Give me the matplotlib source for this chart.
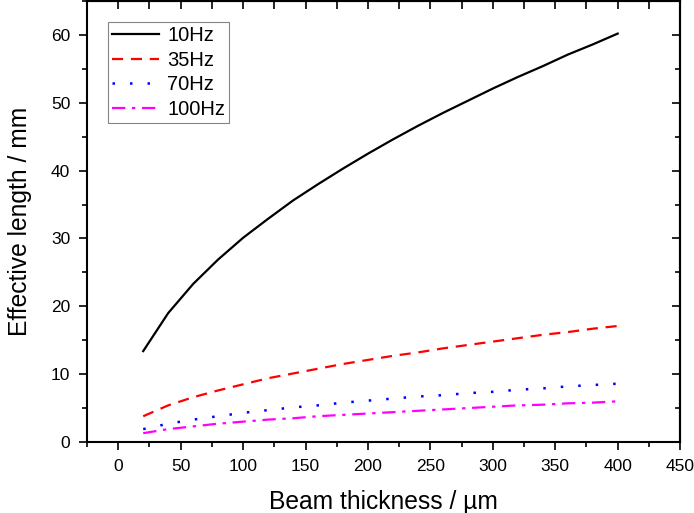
import numpy as np
import matplotlib.pyplot as plt
from matplotlib.ticker import MultipleLocator

plt.rcParams['font.family'] = ['Liberation Sans', 'DejaVu Sans']

# beam thickness (um)
thickness = [20, 40, 60, 80, 100, 120, 140, 160, 180, 200,
             220, 240, 260, 280, 300, 320, 340, 360, 380, 400]

# effective length (mm) for each frequency
len_10hz = [13.4, 19.0, 23.3, 26.9, 30.1, 32.9, 35.6, 38.0, 40.3, 42.5,
            44.6, 46.6, 48.5, 50.3, 52.1, 53.8, 55.4, 57.1, 58.6, 60.2]
len_35hz = [3.8, 5.4, 6.6, 7.6, 8.5, 9.4, 10.1, 10.8, 11.5, 12.1,
            12.7, 13.2, 13.8, 14.3, 14.8, 15.3, 15.8, 16.2, 16.7, 17.1]
len_70hz = [1.9, 2.7, 3.3, 3.8, 4.3, 4.7, 5.1, 5.4, 5.8, 6.1,
            6.4, 6.7, 6.9, 7.2, 7.4, 7.7, 7.9, 8.2, 8.4, 8.6]
len_100hz = [1.3, 1.9, 2.3, 2.7, 3.0, 3.3, 3.5, 3.8, 4.0, 4.2,
             4.4, 4.6, 4.8, 5.0, 5.2, 5.4, 5.5, 5.7, 5.8, 6.0]

fig = plt.figure(figsize=(6.94, 5.13), dpi=100)
ax = fig.add_axes([0.1254, 0.1384, 0.8546, 0.8596])

ax.plot(thickness, len_10hz, color='black', lw=1.6, label='10Hz')
ax.plot(thickness, len_35hz, color='red', lw=1.6, dashes=(5, 3.5), label='35Hz')
ax.plot(thickness, len_70hz, color='blue', lw=1.8, dashes=(1, 6), label='70Hz')
ax.plot(thickness, len_100hz, color='magenta', lw=1.6, dashes=(6, 3, 1.5, 3), label='100Hz')

ax.set_xlim(-25, 450)
ax.set_ylim(0, 65)
ax.xaxis.set_major_locator(MultipleLocator(50))
ax.xaxis.set_minor_locator(MultipleLocator(25))
ax.yaxis.set_major_locator(MultipleLocator(10))
ax.yaxis.set_minor_locator(MultipleLocator(5))
ax.tick_params(which='major', direction='out', length=6, width=1.2, labelsize=12.5, pad=6)
ax.tick_params(which='minor', direction='out', length=3.5, width=1.2)

# inward ticks on the top and right
top = ax.secondary_xaxis('top')
top.xaxis.set_major_locator(MultipleLocator(50))
top.xaxis.set_minor_locator(MultipleLocator(25))
top.tick_params(which='both', direction='in', length=6, width=1.2, labeltop=False)
right = ax.secondary_yaxis('right')
right.yaxis.set_major_locator(MultipleLocator(10))
right.yaxis.set_minor_locator(MultipleLocator(5))
right.tick_params(which='major', direction='in', length=6, width=1.2, labelright=False)
right.tick_params(which='minor', direction='in', length=3.5, width=1.2)

for s in list(ax.spines.values()) + [top.spines['top'], right.spines['right']]:
    s.set_linewidth(1.5)

ax.set_xlabel('Beam thickness / \u00b5m', fontsize=17.7, labelpad=12)
ax.set_ylabel('Effective length / mm', fontsize=17.7, labelpad=14)

leg = ax.legend(loc='upper left', bbox_to_anchor=(0.035, 0.952), fontsize=14.5,
                frameon=True, fancybox=False, edgecolor='0.4', handlelength=2.35,
                borderpad=0.2, borderaxespad=0, labelspacing=0.28, handletextpad=0.4)
leg.get_frame().set_linewidth(0.8)

fig.savefig('out.png', dpi=100)
